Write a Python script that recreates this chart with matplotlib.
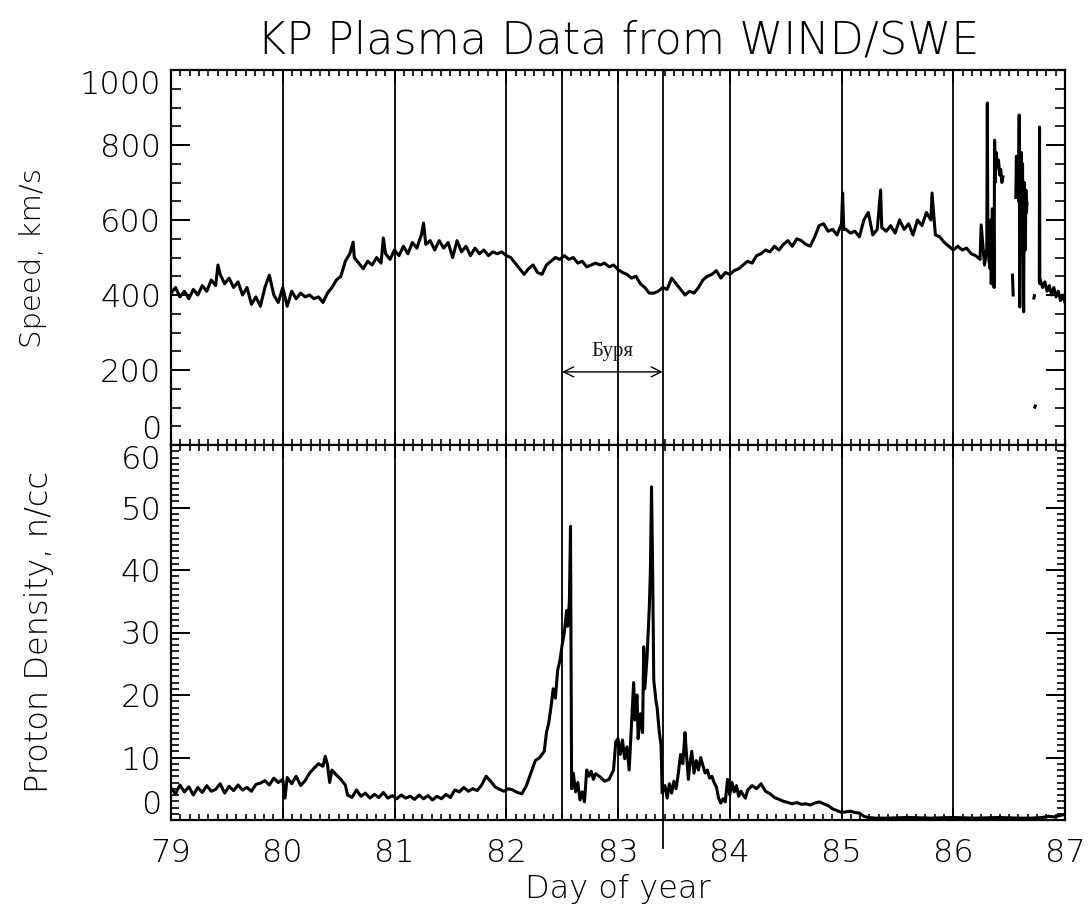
import numpy as np
import matplotlib
matplotlib.use("Agg")
import matplotlib.pyplot as plt
from matplotlib.ticker import MultipleLocator

nan = float("nan")

# ---- Data ----
speed_day = [
    79.00, 79.04, 79.08, 79.12, 79.16, 79.20, 79.24, 79.28, 79.32, 79.36, 79.40, 79.42, 79.44, 79.48,
    79.52, 79.56, 79.60, 79.64, 79.68, 79.72, 79.76, 79.80, 79.84, 79.88, 79.92, 79.96, 80.00, 80.04,
    80.08, 80.12, 80.16, 80.20, 80.24, 80.28, 80.32, 80.36, 80.40, 80.44, 80.48, 80.52, 80.56, 80.60,
    80.63, 80.64, 80.68, 80.72, 80.76, 80.80, 80.84, 80.88, 80.90, 80.92, 80.96, 81.00, 81.04, 81.08,
    81.12, 81.16, 81.20, 81.24, 81.26, 81.28, 81.32, 81.36, 81.40, 81.44, 81.48, 81.52, 81.56, 81.60,
    81.64, 81.68, 81.72, 81.76, 81.80, 81.84, 81.88, 81.92, 81.96, 82.00, 82.04, 82.08, 82.12, 82.16,
    82.20, 82.24, 82.28, 82.32, 82.36, 82.40, 82.44, 82.48, 82.52, 82.56, 82.60, 82.64, 82.68, 82.72,
    82.76, 82.80, 82.84, 82.88, 82.92, 82.96, 83.00, 83.04, 83.08, 83.12, 83.16, 83.20, 83.24, 83.28,
    83.32, 83.36, 83.40, 83.44, 83.48, 83.52, 83.56, 83.60, 83.64, 83.68, 83.72, 83.76, 83.80, 83.84,
    83.88, 83.92, 83.96, 84.00, 84.04, 84.08, 84.12, 84.16, 84.20, 84.24, 84.28, 84.32, 84.36, 84.40,
    84.44, 84.48, 84.52, 84.56, 84.60, 84.64, 84.68, 84.72, 84.76, 84.80, 84.84, 84.88, 84.92, 84.96,
    85.00, 85.01, 85.02, 85.04, 85.08, 85.12, 85.16, 85.20, 85.24, 85.28, 85.32, 85.35, 85.36, 85.40,
    85.44, 85.48, 85.52, 85.56, 85.60, 85.64, 85.68, 85.72, 85.76, 85.80, 85.81, 85.84, 85.88, 85.92,
    85.96, 86.00, 86.04, 86.08, 86.12, 86.16, 86.20, 86.24, 86.25, 86.28,
    86.300, 86.305, 86.310, 86.320, 86.330, 86.335, 86.340, 86.350, 86.355, 86.360, 86.365, 86.370,
    86.375, 86.385, 86.395, 86.405, 86.415, 86.425, 86.435, 86.445, 86.460,
    86.530, 86.536, 86.545,
    86.560, 86.565, 86.570, 86.575, 86.585, 86.590, 86.595, 86.600, 86.610, 86.615, 86.620, 86.630,
    86.635, 86.640, 86.645, 86.650, 86.655, 86.660, 86.680,
    86.722, 86.726, 86.728,
    86.730, 86.734, 86.740,
    86.770, 86.772, 86.775, 86.78, 86.80, 86.82, 86.84, 86.86, 86.88, 86.90, 86.92, 86.94, 86.96,
    86.98, 87.00,
]
speed_val = [
    405, 420, 395, 410, 390, 415, 400, 425, 410, 440, 425, 480, 455, 430,
    445, 420, 435, 400, 420, 375, 395, 370, 420, 453, 400, 380, 420, 370,
    410, 390, 405, 395, 400, 390, 395, 380, 405, 420, 440, 450, 490, 510,
    541, 500, 485, 470, 490, 480, 500, 485, 552, 510, 495, 520, 505, 530,
    510, 540, 525, 560, 592, 535, 545, 520, 545, 525, 540, 500, 545, 515,
    530, 505, 525, 510, 520, 505, 515, 510, 515, 505, 500, 485, 470, 455,
    470, 480, 460, 455, 480, 490, 500, 495, 505, 495, 500, 485, 490, 475,
    480, 485, 480, 485, 475, 480, 468, 460, 455, 445, 450, 430, 420, 405,
    405, 410, 420, 415, 445, 430, 415, 400, 410, 405, 420, 440, 450, 455,
    465, 445, 460, 455, 465, 470, 480, 490, 485, 505, 510, 520, 515, 530,
    520, 535, 545, 530, 550, 545, 535, 530, 555, 585, 590, 570, 575, 560,
    590, 672, 575, 575, 565, 570, 555, 600, 620, 560, 575, 680, 580, 570,
    585, 565, 600, 575, 590, 560, 600, 585, 620, 600, 672, 560, 555, 540,
    530, 520, 530, 520, 525, 510, 505, 495, 587, 480,
    525, 912, 530, 490, 470, 600, 430, 630, 440, 600, 420, 813,
    700, 780, 740, 760, 720, 735, 700, 715, nan,
    453, 400, nan,
    660, 770, 680, 740, 650, 880, 368, 700, 780, 630, 750, 355,
    700, 600, 520, 680, 620, 645, nan,
    392, 398, nan,
    101, 104, nan,
    440, 848, 430, 440, 420, 435, 410, 425, 400, 420, 395, 410, 385,
    400, 380,
]

dens_day = [
    79.00, 79.04, 79.08, 79.12, 79.16, 79.20, 79.24, 79.28, 79.32, 79.36, 79.40, 79.44, 79.48, 79.52,
    79.56, 79.60, 79.64, 79.68, 79.72, 79.76, 79.80, 79.84, 79.88, 79.92, 79.96, 80.00, 80.02, 80.04,
    80.08, 80.12, 80.16, 80.20, 80.24, 80.28, 80.32, 80.36, 80.38, 80.40, 80.42, 80.44, 80.48, 80.52,
    80.56, 80.58, 80.62, 80.66, 80.70, 80.74, 80.78, 80.82, 80.86, 80.90, 80.94, 80.98, 81.02, 81.06,
    81.10, 81.14, 81.18, 81.22, 81.26, 81.30, 81.34, 81.38, 81.42, 81.46, 81.50, 81.54, 81.58, 81.62,
    81.66, 81.70, 81.74, 81.78, 81.82, 81.86, 81.90, 81.94, 81.98, 82.02, 82.06, 82.10, 82.14, 82.18,
    82.22, 82.26, 82.30, 82.34, 82.36, 82.38, 82.40, 82.42, 82.44, 82.46, 82.48, 82.50, 82.52, 82.54,
    82.55, 82.565, 82.575, 82.585, 82.60, 82.62, 82.64, 82.66, 82.68, 82.70, 82.72, 82.74, 82.76, 82.78,
    82.80, 82.84, 82.88, 82.92, 82.96, 82.98, 83.00, 83.02, 83.04, 83.06, 83.08, 83.10, 83.12, 83.14,
    83.15, 83.17, 83.18, 83.20, 83.22, 83.23, 83.24, 83.26, 83.28, 83.29, 83.30, 83.31, 83.32, 83.34,
    83.35, 83.37, 83.385, 83.395, 83.42, 83.44, 83.46, 83.48, 83.50, 83.52, 83.54, 83.56, 83.58, 83.60,
    83.61, 83.63, 83.64, 83.66, 83.68, 83.70, 83.72, 83.74, 83.76, 83.78, 83.80, 83.82, 83.84, 83.86,
    83.88, 83.90, 83.92, 83.94, 83.96, 83.98, 84.00, 84.02, 84.04, 84.06, 84.08, 84.10, 84.12, 84.14,
    84.16, 84.20, 84.24, 84.28, 84.32, 84.36, 84.40, 84.44, 84.48, 84.52, 84.56, 84.60, 84.64, 84.68,
    84.72, 84.76, 84.80, 84.84, 84.88, 84.92, 84.96, 85.00, 85.04, 85.08, 85.12, 85.16, 85.20, 85.24,
    85.30, 85.40, 85.60, 85.80, 86.00, 86.20, 86.40, 86.60, 86.70, 86.80, 86.85, 86.90, 86.95, 87.00,
]
dens_val = [
    5.1, 4.2, 5.6, 4.5, 5.3, 4.0, 5.2, 4.4, 5.5, 4.6, 4.9, 5.8, 4.3, 5.4,
    4.7, 5.6, 4.8, 5.2, 4.6, 5.7, 5.9, 6.3, 5.6, 6.7, 6.0, 6.5, 3.5, 6.8,
    5.8, 7.0, 5.5, 6.3, 7.5, 8.3, 9.0, 8.6, 10.2, 8.9, 6.0, 8.0, 7.2, 6.5,
    5.6, 4.0, 3.6, 4.8, 3.8, 4.3, 3.5, 4.1, 3.6, 4.4, 3.5, 3.9, 3.4, 4.0,
    3.5, 3.8, 3.3, 4.0, 3.4, 3.9, 3.2, 3.8, 3.4, 4.1, 3.6, 4.8, 4.5, 5.2,
    4.6, 5.0, 4.7, 5.6, 7.0, 6.2, 5.3, 4.9, 4.6, 5.0, 4.8, 4.4, 4.2, 5.5,
    7.5, 9.5, 10.0, 11.0, 14.0, 15.5, 18.0, 21.0, 19.5, 24.0, 25.5, 28.0, 30.0, 33.5,
    31.0, 35.0, 47.0, 5.0, 7.5, 4.5, 6.0, 3.2, 4.5, 2.9, 8.0, 7.0, 7.8, 6.5,
    7.4, 6.9, 6.2, 6.5, 8.0, 12.5, 13.0, 10.5, 12.8, 9.8, 11.7, 8.0, 15.0, 22.0,
    16.0, 20.0, 13.0, 17.0, 14.0, 27.7, 21.0, 26.0, 34.0, 40.0, 53.3, 40.0, 22.4, 19.0,
    18.0, 14.0, 12.0, 4.3, 5.5, 3.5, 5.8, 4.3, 6.2, 5.0, 7.5, 10.5, 9.0, 14.0,
    11.2, 6.5, 8.5, 11.0, 7.5, 9.5, 8.0, 10.0, 8.7, 7.5, 8.0, 6.7, 7.0, 6.0,
    5.3, 3.5, 2.7, 3.4, 2.9, 6.5, 4.0, 6.0, 4.5, 5.5, 3.8, 4.6, 4.0, 3.5,
    4.8, 5.5, 5.0, 5.8, 4.6, 4.2, 3.6, 3.3, 3.0, 2.8, 2.6, 2.8, 2.5, 2.6,
    2.4, 2.7, 2.9, 2.6, 2.3, 1.8, 1.5, 1.2, 1.3, 1.4, 1.2, 1.1, 0.6, 0.4,
    0.3, 0.3, 0.4, 0.3, 0.4, 0.3, 0.4, 0.3, 0.3, 0.4, 0.6, 0.5, 0.7, 0.9,
]

event_days = [80, 81, 82, 82.5, 83, 83.4, 84, 85, 86]
storm_start, storm_end = 82.5, 83.4
storm_label = "Буря"
storm_level = 195
x_ticks = [79, 80, 81, 82, 83, 84, 85, 86, 87]
speed_ticks = [0, 200, 400, 600, 800, 1000]
dens_ticks = [0, 10, 20, 30, 40, 50, 60]

# ---- Figure ----
plt.rcParams['font.family'] = ['DejaVu Sans']
plt.rcParams['font.weight'] = 'light'
plt.rcParams['axes.labelweight'] = 'light'
plt.rcParams['axes.titleweight'] = 'light'
fig = plt.figure(figsize=(10.89, 9.15), dpi=100)
W, H = 1089, 915
L, R = 171 / W, 1065 / W
ax1 = fig.add_axes([L, 1 - 445 / H, R - L, 375 / H])
ax2 = fig.add_axes([L, 1 - 820 / H, R - L, 375 / H])

tick_font = 23
for ax in (ax1, ax2):
    for sp in ax.spines.values():
        sp.set_linewidth(1.6)
    ax.set_xlim(79, 87)
    ax.xaxis.set_major_locator(MultipleLocator(1))
    ax.xaxis.set_minor_locator(MultipleLocator(1 / 12))
    ax.tick_params(axis='x', which='both', direction='in', top=True, bottom=True)
    ax.tick_params(axis='x', which='major', length=9, width=1.2)
    ax.tick_params(axis='x', which='minor', length=4.5, width=1.2)
    ax.tick_params(axis='y', which='both', direction='in', left=True, right=True)
    ax.tick_params(axis='y', which='major', length=14, width=1.4, labelsize=tick_font, pad=7)
    ax.tick_params(axis='y', which='minor', length=7, width=1.2)
    for d in event_days:
        ax.axvline(d, color='black', lw=1.3, zorder=1)

ax1.plot(speed_day, speed_val, color='black', lw=2.2, zorder=3)
ax1.set_ylim(0, 1000)
ax1.set_yticks(speed_ticks)
ax1.yaxis.set_minor_locator(MultipleLocator(50))
ax1.tick_params(axis='x', labelbottom=False)
ax1.set_ylabel("Speed, km/s", fontsize=21)
ax1.yaxis.set_label_coords(-0.139, 0.5)
ax1.set_title("KP Plasma Data from WIND/SWE", fontsize=32, pad=12)

ax1.annotate('', xy=(storm_start, storm_level), xytext=(storm_end, storm_level),
             arrowprops=dict(arrowstyle='<->', lw=1.0, color='black',
                             mutation_scale=18, shrinkA=0, shrinkB=0), zorder=4)
ax1.text((storm_start + storm_end) / 2, storm_level + 28, storm_label,
         family='Liberation Serif', fontsize=15, fontweight='normal',
         ha='center', va='bottom', color='#1a1a1a')

ax2.plot(dens_day, dens_val, color='black', lw=2.2, zorder=3)
ax2.set_ylim(0, 60)
ax2.set_yticks(dens_ticks)
ax2.yaxis.set_minor_locator(MultipleLocator(1))
ax2.tick_params(axis='y', which='minor', length=6)
ax2.set_xticks(x_ticks)
ax2.tick_params(axis='x', which='major', labelsize=tick_font, pad=13)
ax2.set_xlabel("Day of year", fontsize=23, labelpad=4)
ax2.set_ylabel("Proton Density, n/cc", fontsize=23)
ax2.yaxis.set_label_coords(-0.131, 0.5)
ax2.axvline(storm_end, ymin=-0.075, ymax=0, color='black', lw=1.3, clip_on=False)

# keep edge labels inside the panel range, as in the original
for ax in (ax1, ax2):
    ticks = ax.yaxis.get_major_ticks()
    ticks[0].label1.set_va('bottom')
    ticks[-1].label1.set_va('top')

fig.savefig("out.png", dpi=100)
